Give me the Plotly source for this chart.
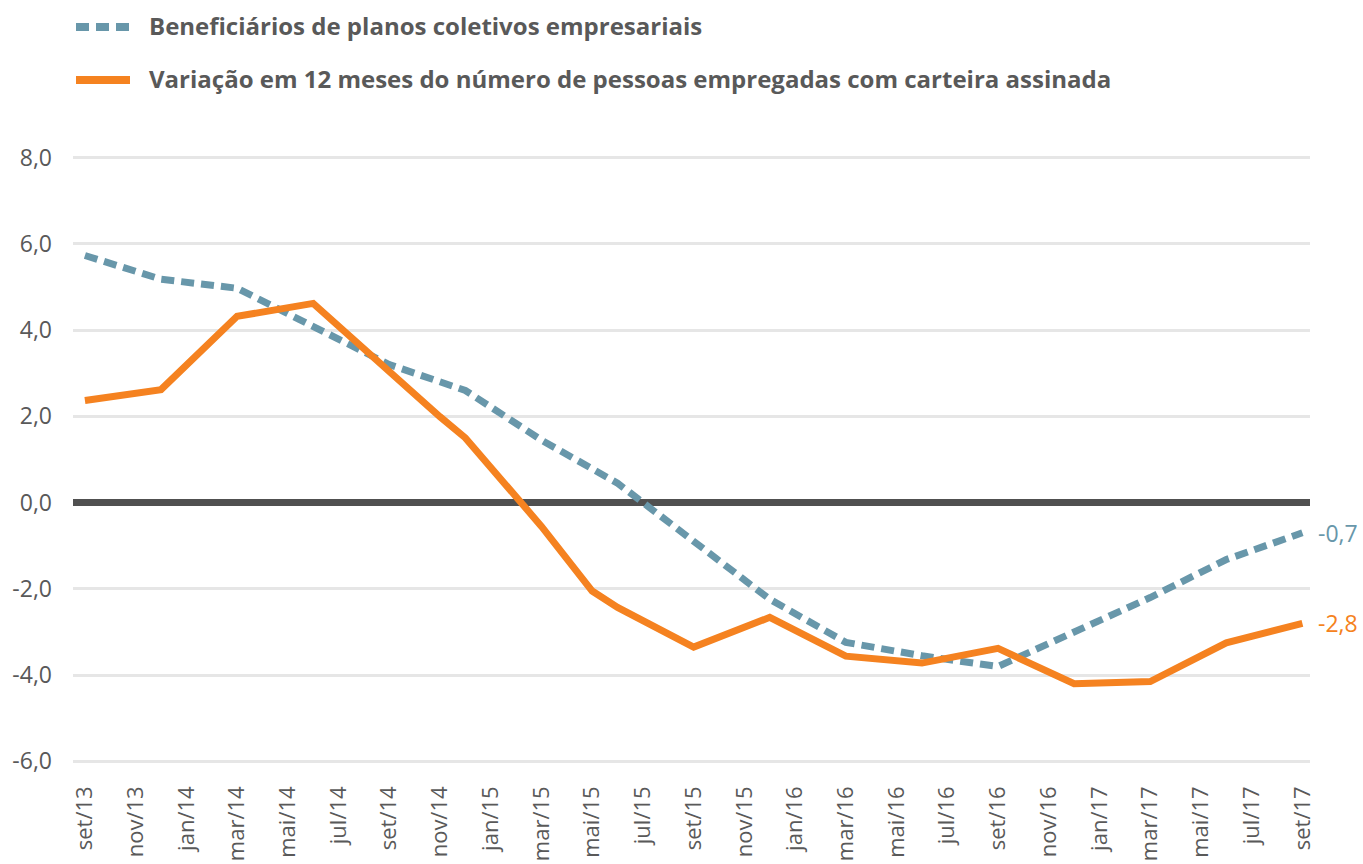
import plotly.graph_objects as go

# ---------------- data ----------------
month_abbr = ["jan", "fev", "mar", "abr", "mai", "jun", "jul", "ago", "set", "out", "nov", "dez"]
months = []
y, m = 2013, 8
while (y, m) <= (2017, 8):
    months.append(f"{month_abbr[m]}/{str(y)[2:]}")
    m += 1
    if m == 12:
        m = 0
        y += 1

tick_labels = months[::2]

benef_x = ["set/13", "dez/13", "mar/14", "jun/14", "set/14", "dez/14", "mar/15", "jun/15",
           "set/15", "dez/15", "mar/16", "jun/16", "set/16", "dez/16", "mar/17", "jun/17", "set/17"]
benef_y = [5.73, 5.18, 4.97, 4.10, 3.20, 2.60, 1.45, 0.45,
           -0.88, -2.24, -3.24, -3.55, -3.80, -3.00, -2.20, -1.32, -0.70]

emp_x = ["set/13", "dez/13", "mar/14", "jun/14", "nov/14", "dez/14", "mar/15", "mai/15", "jun/15",
         "set/15", "dez/15", "mar/16", "jun/16", "set/16", "dez/16", "mar/17", "jun/17", "set/17"]
emp_y = [2.37, 2.62, 4.32, 4.62, 1.99, 1.50, -0.55, -2.05, -2.43,
         -3.35, -2.66, -3.56, -3.72, -3.38, -4.20, -4.15, -3.25, -2.80]

y_ticks = [8, 6, 4, 2, 0, -2, -4, -6]
y_tick_text = [f"{v:.1f}".replace(".", ",") for v in y_ticks]

name_benef = "Beneficiários de planos coletivos empresariais"
name_emp = "Variação em 12 meses do número de pessoas empregadas com carteira assinada"

# ---------------- style ----------------
BLUE = "#6897aa"
ORANGE = "#f58220"
TEXT = "#595959"
FONT = "Open Sans"

W, H = 1363, 864
ML, MR, MT, MB = 73, 53, 155, 100
PW, PH = W - ML - MR, H - MT - MB


def px_x(x):
    return (x - ML) / PW


def px_y(yy):
    return (H - MB - yy) / PH


fig = go.Figure()
fig.add_trace(go.Scatter(x=benef_x, y=benef_y, mode="lines", name=name_benef,
                         line=dict(color=BLUE, width=7, dash="13px,7px"),
                         showlegend=False))
fig.add_trace(go.Scatter(x=emp_x, y=emp_y, mode="lines", name=name_emp,
                         line=dict(color=ORANGE, width=7),
                         showlegend=False))

# end labels
for xs, ys, col in [(benef_x, benef_y, BLUE), (emp_x, emp_y, ORANGE)]:
    fig.add_annotation(x=xs[-1], y=ys[-1], text=f"{ys[-1]:.1f}".replace(".", ","),
                       showarrow=False, xanchor="left", yanchor="middle", xshift=14,
                       font=dict(family=FONT, size=23, color=col))

# manual legend
for yy, col, dash, label in [(27, BLUE, "13px,7px", name_benef), (80, ORANGE, "solid", name_emp)]:
    fig.add_shape(type="line", xref="paper", yref="paper",
                  x0=px_x(76), x1=px_x(130), y0=px_y(yy), y1=px_y(yy),
                  line=dict(color=col, width=8, dash=dash))
    fig.add_annotation(xref="paper", yref="paper", x=px_x(147), y=px_y(yy - 2),
                       text=f"<b>{label}</b>", showarrow=False, xanchor="left", yanchor="middle",
                       font=dict(family=FONT, size=24, color=TEXT))

fig.update_layout(
    width=W, height=H,
    margin=dict(l=ML, r=MR, t=MT, b=MB, autoexpand=False),
    paper_bgcolor="white", plot_bgcolor="white",
    font=dict(family=FONT, color=TEXT, size=22),
    showlegend=False,
)
fig.update_xaxes(type="category", categoryorder="array", categoryarray=months,
                 range=[-0.47, len(months) - 1 + 0.3], automargin=False,
                 tickmode="array", tickvals=tick_labels, ticktext=tick_labels,
                 tickangle=-90, tickfont=dict(family=FONT, size=22, color=TEXT),
                 showgrid=False, showline=False, zeroline=False, ticks="",
                 ticklabelstandoff=17)
fig.update_yaxes(range=[-6.06, 8.06], tickmode="array", tickvals=y_ticks, ticktext=y_tick_text,
                 automargin=False,
                 tickfont=dict(family=FONT, size=23, color=TEXT),
                 showgrid=True, gridcolor="#e6e6e6", gridwidth=3,
                 zeroline=True, zerolinecolor="#505050", zerolinewidth=7,
                 showline=False, ticks="", ticklabelstandoff=20)

fig.write_html("out.html", config={"displayModeBar": False},
               post_script="document.body.style.margin='0';")
